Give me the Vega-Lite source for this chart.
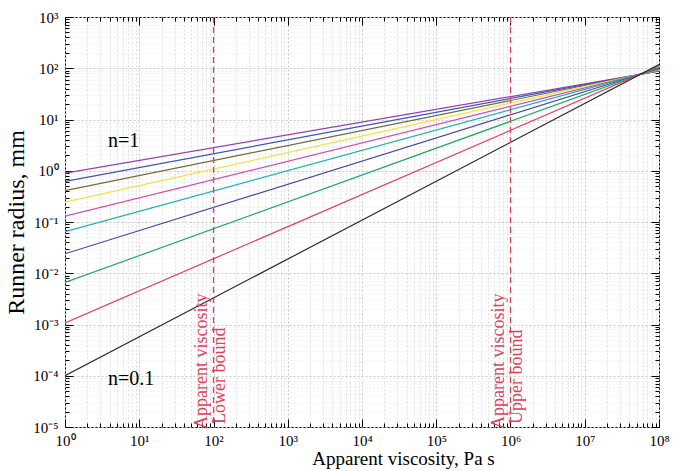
{
  "$schema": "https://vega.github.io/schema/vega-lite/v6.json",
  "width": 594,
  "height": 410,
  "autosize": "none",
  "padding": {"left": 65, "top": 17, "right": 14, "bottom": 44},
  "background": "white",
  "config": {
    "view": {"stroke": "black", "strokeWidth": 1},
    "axis": {
      "domain": false,
      "tickColor": "black",
      "tickWidth": 1,
      "tickOpacity": 1,
      "labelColor": "black",
      "titleColor": "black",
      "labelFont": "Liberation Serif",
      "titleFont": "Liberation Serif",
      "labelFontSize": 15,
      "titleFontWeight": "normal",
      "labelOverlap": false,
      "labelBound": false,
      "labelFlush": false
    }
  },
  "datasets": {
    "lines": [
      {"n": "1.0", "eta": 1, "r": 0.9},
      {"n": "1.0", "eta": 1e8, "r": 88},
      {"n": "0.9", "eta": 1, "r": 0.62},
      {"n": "0.9", "eta": 1e8, "r": 89},
      {"n": "0.8", "eta": 1, "r": 0.41},
      {"n": "0.8", "eta": 1e8, "r": 90.5},
      {"n": "0.7", "eta": 1, "r": 0.245},
      {"n": "0.7", "eta": 1e8, "r": 92},
      {"n": "0.6", "eta": 1, "r": 0.13},
      {"n": "0.6", "eta": 1e8, "r": 94},
      {"n": "0.5", "eta": 1, "r": 0.065},
      {"n": "0.5", "eta": 1e8, "r": 96},
      {"n": "0.4", "eta": 1, "r": 0.024},
      {"n": "0.4", "eta": 1e8, "r": 99},
      {"n": "0.3", "eta": 1, "r": 0.0066},
      {"n": "0.3", "eta": 1e8, "r": 103},
      {"n": "0.2", "eta": 1, "r": 0.00107},
      {"n": "0.2", "eta": 1e8, "r": 110},
      {"n": "0.1", "eta": 1, "r": 0.0001},
      {"n": "0.1", "eta": 1e8, "r": 118}
    ]
  },
  "data": {"name": "lines"},
  "resolve": {"axis": {"x": "independent", "y": "independent"}},
  "layer": [
    {
      "mark": {"type": "line", "strokeWidth": 1.2, "clip": true},
      "encoding": {
        "x": {
          "field": "eta", "type": "quantitative",
          "scale": {"type": "log", "domain": [1, 1e8], "nice": false},
          "axis": {
            "orient": "bottom",
            "title": "Apparent viscosity, Pa s",
            "titleFontSize": 19,
            "titleX": 338,
            "titleAlign": "center",
            "titlePadding": 1,
            "values": [1, 10, 100, 1000, 1e4, 1e5, 1e6, 1e7, 1e8],
            "labelExpr": "'10' + (round(log(datum.value)/LN10) < 0 ? '⁻' : '') + substring('⁰¹²³⁴⁵⁶⁷⁸⁹', abs(round(log(datum.value)/LN10)), abs(round(log(datum.value)/LN10)) + 1)",
            "offset": -8,
            "tickSize": 8,
            "labelPadding": 6,
            "grid": true,
            "gridColor": "#c8c8c8",
            "gridDash": [2, 2]
          }
        },
        "y": {
          "field": "r", "type": "quantitative",
          "scale": {"type": "log", "domain": [1e-5, 1e3], "nice": false},
          "axis": {
            "orient": "left",
            "title": "Runner radius, mm",
            "titleFontSize": 24,
            "titlePadding": 4,
            "values": [1e-5, 1e-4, 1e-3, 0.01, 0.1, 1, 10, 100, 1000],
            "labelExpr": "'10' + (round(log(datum.value)/LN10) < 0 ? '⁻' : '') + substring('⁰¹²³⁴⁵⁶⁷⁸⁹', abs(round(log(datum.value)/LN10)), abs(round(log(datum.value)/LN10)) + 1)",
            "offset": -8,
            "tickSize": 8,
            "labelPadding": 7,
            "grid": true,
            "gridColor": "#c8c8c8",
            "gridDash": [2, 2]
          }
        },
        "color": {
          "field": "n", "type": "nominal", "legend": null,
          "scale": {
            "domain": ["1.0", "0.9", "0.8", "0.7", "0.6", "0.5", "0.4", "0.3", "0.2", "0.1"],
            "range": ["#9440b4", "#3a55b8", "#6e6a3c", "#f2e046", "#d44cb8", "#1fb3ad", "#4646a6", "#22a866", "#e8405a", "#2a2a2a"]
          }
        }
      }
    },
    {
      "data": {"values": [{"bound": 100}, {"bound": 1000000}]},
      "mark": {"type": "rule", "color": "#e0405a", "strokeDash": [6, 4], "strokeWidth": 1.3},
      "encoding": {
        "x": {
          "field": "bound", "type": "quantitative",
          "axis": {
            "orient": "bottom", "title": null, "labels": false,
            "values": [2,3,4,5,6,7,8,9,20,30,40,50,60,70,80,90,200,300,400,500,600,700,800,900,2000,3000,4000,5000,6000,7000,8000,9000,2e4,3e4,4e4,5e4,6e4,7e4,8e4,9e4,2e5,3e5,4e5,5e5,6e5,7e5,8e5,9e5,2e6,3e6,4e6,5e6,6e6,7e6,8e6,9e6,2e7,3e7,4e7,5e7,6e7,7e7,8e7,9e7],
            "offset": -4, "tickSize": 4,
            "grid": true, "gridColor": "#e0e0e0", "gridDash": [2, 2]
          }
        }
      }
    },
    {
      "data": {"values": [
        {"bx": 100, "by": 1e-5, "txt": "Apparent viscosity"},
        {"bx": 1000000, "by": 1e-5, "txt": "Apparent viscosity"}
      ]},
      "mark": {"type": "text", "angle": 270, "align": "left", "baseline": "bottom", "dx": -2, "dy": -3, "font": "Liberation Serif", "fontSize": 18, "color": "#e0405a"},
      "encoding": {
        "x": {
          "field": "bx", "type": "quantitative",
          "axis": {
            "orient": "top", "title": null, "labels": false, "grid": false,
            "values": [1, 10, 100, 1000, 1e4, 1e5, 1e6, 1e7, 1e8],
            "offset": -8, "tickSize": 8
          }
        },
        "y": {
          "field": "by", "type": "quantitative",
          "axis": {
            "orient": "right", "title": null, "labels": false, "grid": false,
            "values": [1e-5, 1e-4, 1e-3, 0.01, 0.1, 1, 10, 100, 1000],
            "offset": -8, "tickSize": 8
          }
        },
        "text": {"field": "txt"}
      }
    },
    {
      "data": {"values": [
        {"bx": 100, "by": 1e-5, "txt": "Lower bound"},
        {"bx": 1000000, "by": 1e-5, "txt": "Upper bound"}
      ]},
      "mark": {"type": "text", "angle": 270, "align": "left", "baseline": "top", "dx": 3, "dy": -3, "font": "Liberation Serif", "fontSize": 18, "color": "#e0405a"},
      "encoding": {
        "x": {
          "field": "bx", "type": "quantitative",
          "axis": {
            "orient": "top", "title": null, "labels": false, "grid": false,
            "values": [2,3,4,5,6,7,8,9,20,30,40,50,60,70,80,90,200,300,400,500,600,700,800,900,2000,3000,4000,5000,6000,7000,8000,9000,2e4,3e4,4e4,5e4,6e4,7e4,8e4,9e4,2e5,3e5,4e5,5e5,6e5,7e5,8e5,9e5,2e6,3e6,4e6,5e6,6e6,7e6,8e6,9e6,2e7,3e7,4e7,5e7,6e7,7e7,8e7,9e7],
            "offset": -4, "tickSize": 4
          }
        },
        "y": {
          "field": "by", "type": "quantitative",
          "axis": {
            "orient": "right", "title": null, "labels": false, "grid": false,
            "values": [2e-5,3e-5,4e-5,5e-5,6e-5,7e-5,8e-5,9e-5,2e-4,3e-4,4e-4,5e-4,6e-4,7e-4,8e-4,9e-4,2e-3,3e-3,4e-3,5e-3,6e-3,7e-3,8e-3,9e-3,0.02,0.03,0.04,0.05,0.06,0.07,0.08,0.09,0.2,0.3,0.4,0.5,0.6,0.7,0.8,0.9,2,3,4,5,6,7,8,9,20,30,40,50,60,70,80,90,200,300,400,500,600,700,800,900],
            "offset": -4, "tickSize": 4
          }
        },
        "text": {"field": "txt"}
      }
    },
    {
      "data": {"values": [
        {"lx": 3.8, "ly": 3.8, "txt": "n=1"},
        {"lx": 3.8, "ly": 0.000087, "txt": "n=0.1"}
      ]},
      "mark": {"type": "text", "align": "left", "baseline": "middle", "font": "Liberation Serif", "fontSize": 20, "color": "black"},
      "encoding": {
        "x": {"field": "lx", "type": "quantitative", "axis": null},
        "y": {
          "field": "ly", "type": "quantitative",
          "axis": {
            "orient": "left", "title": null, "labels": false,
            "values": [2e-5,3e-5,4e-5,5e-5,6e-5,7e-5,8e-5,9e-5,2e-4,3e-4,4e-4,5e-4,6e-4,7e-4,8e-4,9e-4,2e-3,3e-3,4e-3,5e-3,6e-3,7e-3,8e-3,9e-3,0.02,0.03,0.04,0.05,0.06,0.07,0.08,0.09,0.2,0.3,0.4,0.5,0.6,0.7,0.8,0.9,2,3,4,5,6,7,8,9,20,30,40,50,60,70,80,90,200,300,400,500,600,700,800,900],
            "offset": -4, "tickSize": 4,
            "grid": true, "gridColor": "#f0f0f0", "gridDash": [2, 2]
          }
        },
        "text": {"field": "txt"}
      }
    }
  ]
}
